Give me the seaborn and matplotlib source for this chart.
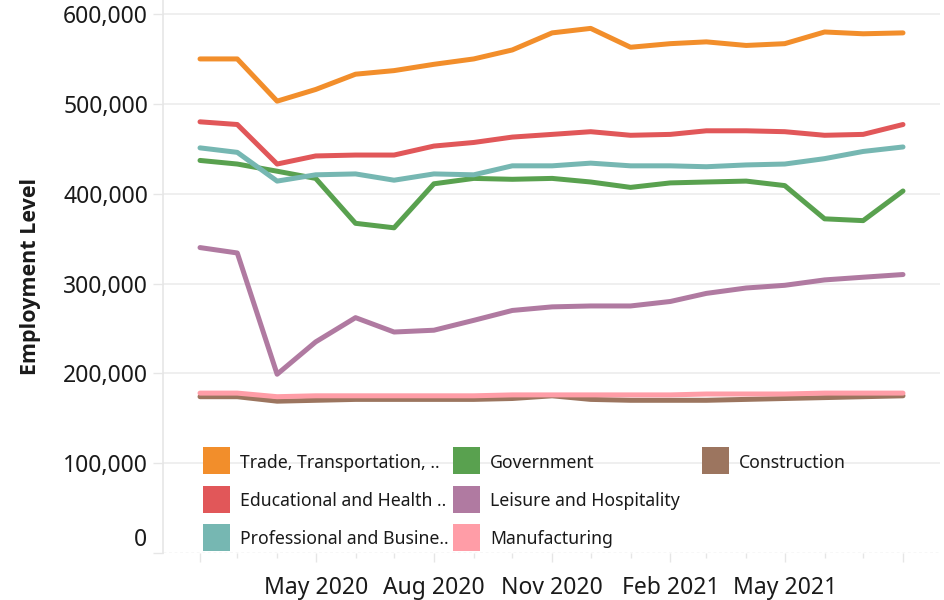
import matplotlib
matplotlib.use("Agg")
import matplotlib.pyplot as plt
from matplotlib.patches import Rectangle
import numpy as np
import pandas as pd
import seaborn as sns

# Monthly employment level by sector, Feb 2020 - Aug 2021
months = pd.date_range("2020-02-01", "2021-08-01", freq="MS")

sectors = [
    "Trade, Transportation, and Utilities",
    "Educational and Health Services",
    "Professional and Business Services",
    "Government",
    "Leisure and Hospitality",
    "Manufacturing",
    "Construction",
]
legend_labels = [
    "Trade, Transportation, ..",
    "Educational and Health ..",
    "Professional and Busine..",
    "Government",
    "Leisure and Hospitality",
    "Manufacturing",
    "Construction",
]

trade = [550, 550, 503, 516, 533, 537, 544, 550, 560, 579, 584, 563, 567, 569, 565, 567, 580, 578, 579]
education = [480, 477, 433, 442, 443, 443, 453, 457, 463, 466, 469, 465, 466, 470, 470, 469, 465, 466, 477]
professional = [451, 446, 414, 421, 422, 415, 422, 421, 431, 431, 434, 431, 431, 430, 432, 433, 439, 447, 452]
government = [437, 433, 425, 417, 367, 362, 411, 417, 416, 417, 413, 407, 412, 413, 414, 409, 372, 370, 403]
leisure = [340, 334, 199, 235, 262, 246, 248, 259, 270, 274, 275, 275, 280, 289, 295, 298, 304, 307, 310]
manufacturing = [178, 178, 174, 175, 175, 175, 175, 175, 176, 176, 176, 176, 176, 177, 177, 177, 178, 178, 178]
construction = [174, 174, 169, 170, 171, 171, 171, 171, 172, 175, 171, 170, 170, 170, 171, 172, 173, 174, 175]

colors = ["#F28E2B", "#E15759", "#76B7B2", "#59A14F", "#B07AA1", "#FF9DA7", "#9C755F"]

y_ticks = [0, 100000, 200000, 300000, 400000, 500000, 600000]
x_tick_labels = ["", "May 2020", "Aug 2020", "Nov 2020", "Feb 2021", "May 2021", ""]

series = [trade, education, professional, government, leisure, manufacturing, construction]
df = pd.concat(
    [pd.DataFrame({"Month": months, "Sector": s, "Employment": np.array(v) * 1000})
     for s, v in zip(sectors, series)],
    ignore_index=True,
)

sns.set_theme(style="white")
plt.rcParams["font.family"] = ["Noto Sans", "DejaVu Sans"]

W, H = 945, 600
fig = plt.figure(figsize=(W / 100, H / 100), dpi=100)
ax = fig.add_axes([163 / W, 47 / H, 777 / W, 553 / H])

palette = dict(zip(sectors, colors))
# first sector ends up on top
sns.lineplot(
    data=df, x="Month", y="Employment", hue="Sector",
    hue_order=sectors[::-1], palette=palette, linewidth=3.6,
    legend=False, ax=ax, solid_capstyle="round", solid_joinstyle="round",
)

# axis ranges
pad = pd.Timedelta(days=28.8)
ax.set_xlim(months[0] - pad, months[-1] + pad)
ax.set_ylim(0, 615600)

# gridlines
for v in y_ticks[1:]:
    ax.axhline(v, color="#efefef", linewidth=1.4, zorder=0)
ax.axhline(0, color="#d9d9d9", linewidth=1.0, linestyle=(0, (2, 2)), zorder=0)

for side in ["top", "right", "bottom"]:
    ax.spines[side].set_visible(False)
ax.spines["left"].set_color("#e6e6e6")
ax.spines["left"].set_linewidth(1.2)

# y axis
ax.set_yticks(y_ticks)
ax.set_yticklabels([f"{v:,}" if v else "" for v in y_ticks])
ax.tick_params(axis="y", which="major", length=7.2, width=1.0, color="#e6e6e6",
               pad=3.6, labelsize=16.5, labelcolor="#1a1a1a", left=True)
ax.annotate("0", xy=(0, 0), xycoords=("axes fraction", "data"),
            xytext=(-11.5, 9.5), textcoords="offset points",
            ha="right", va="center", fontsize=16.5, color="#1a1a1a")
ax.set_ylabel("Employment Level", fontsize=15.5, fontweight="bold", labelpad=16,
              color="#1a1a1a", family=["Open Sans", "DejaVu Sans"])

# x axis
major = months[::3]
ax.set_xticks(major)
ax.set_xticklabels(x_tick_labels)
ax.set_xticks(months, minor=True)
ax.tick_params(axis="x", which="major", length=6.5, width=1.0, color="#e6e6e6",
               pad=10, labelsize=16.5, labelcolor="#1a1a1a", bottom=True)
ax.tick_params(axis="x", which="minor", length=3.5, width=1.0, color="#e6e6e6", bottom=True)
ax.set_xlabel("")

# colour key: three columns of square swatches with labels
col_x = [203, 453, 702]
row_top = [447, 485.5, 524]
sq = 27
slots = [(0, 0), (0, 1), (0, 2), (1, 0), (1, 1), (1, 2), (2, 0)]
for i, (c, r) in enumerate(slots):
    x0, y0 = col_x[c], row_top[r]
    fig.patches.append(Rectangle((x0 / W, 1 - (y0 + sq) / H), sq / W, sq / H,
                                 transform=fig.transFigure, facecolor=colors[i],
                                 edgecolor="none", zorder=5))
    fig.text((x0 + sq + 10) / W, 1 - (y0 + sq / 2) / H, legend_labels[i],
             ha="left", va="center_baseline", fontsize=12.7, color="#1a1a1a")

fig.savefig("out.png", dpi=100)
